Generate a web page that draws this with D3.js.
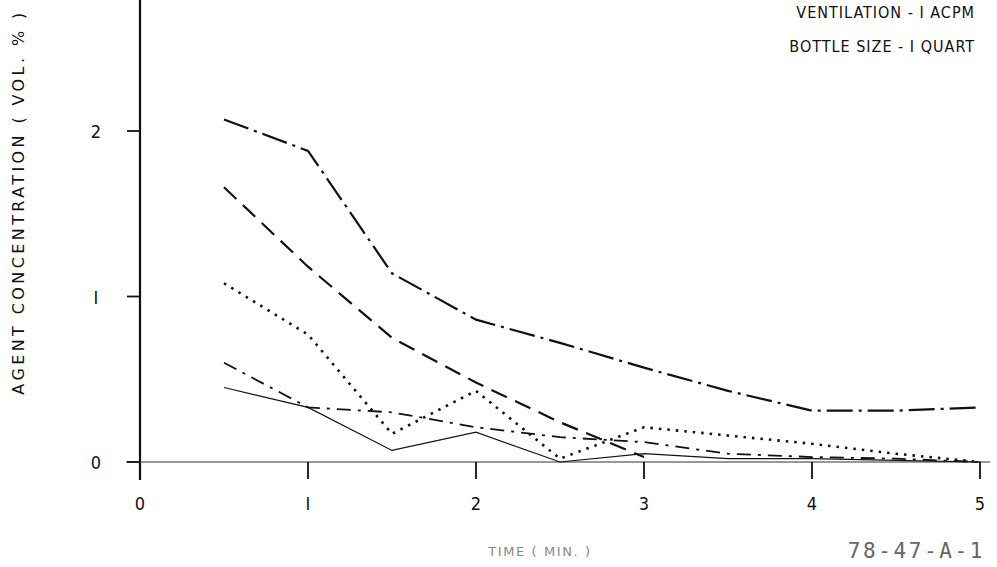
<!DOCTYPE html>
<html>
<head>
<meta charset="utf-8">
<script src="https://cdn.jsdelivr.net/npm/d3@7"></script>
<style>
    body { margin: 0; background: #fff; }
</style>
</head>
<body>
<div id="chart-container"></div>
<script>
// Time points (min.)
const times = [0.5, 1, 1.5, 2, 2.5, 3, 3.5, 4, 4.5, 5];

// Agent concentration (vol. %) for each test run
const runA = [2.07, 1.88, 1.14, 0.86, 0.72, 0.57, 0.43, 0.31, 0.31, 0.33];
const runB = [1.66, 1.18, 0.75, 0.48, 0.24, 0.03];
const runC = [1.08, 0.77, 0.17, 0.43, 0.02, 0.21, 0.16, 0.11, 0.05, 0.0];
const runD = [0.60, 0.33, 0.30, 0.21, 0.15, 0.12, 0.05, 0.03, 0.02, 0.0];
const runE = [0.45, 0.33, 0.07, 0.18, 0.0, 0.05, 0.02, 0.02, 0.01, 0.0];

const xTicks = [0, 1, 2, 3, 4, 5];
const xTickLabels = ["0", "I", "2", "3", "4", "5"];
const yTicks = [0, 1, 2];
const yTickLabels = ["0", "I", "2"];

const notes = ["VENTILATION - I ACPM", "BOTTLE SIZE - I QUART"];

const width = 997, height = 567;
const font = "'DejaVu Sans', sans-serif";
const condensed = "'DejaVu Sans Condensed', 'DejaVu Sans', sans-serif";

const svg = d3.select("#chart-container")
    .append("svg")
    .attr("width", width)
    .attr("height", height);

const x = d3.scaleLinear().domain([0, 5]).range([140, 980]);
const y = d3.scaleLinear().domain([0, 2]).range([462, 131]);

// axes lines
svg.append("line")
    .attr("x1", x(0)).attr("x2", x(0))
    .attr("y1", 0).attr("y2", 480)
    .attr("stroke", "#111").attr("stroke-width", 2.2);
svg.append("line")
    .attr("x1", 126).attr("x2", 990)
    .attr("y1", y(0)).attr("y2", y(0))
    .attr("stroke", "#333").attr("stroke-width", 1.2);

// x ticks
svg.selectAll(".xtick")
    .data(xTicks.slice(1))
    .enter()
    .append("line")
    .attr("x1", d => x(d)).attr("x2", d => x(d))
    .attr("y1", y(0)).attr("y2", y(0) + 17)
    .attr("stroke", "#111").attr("stroke-width", 1.8);

svg.selectAll(".xlabel")
    .data(xTicks)
    .enter()
    .append("text")
    .attr("x", d => x(d))
    .attr("y", 510)
    .attr("text-anchor", "middle")
    .style("font-family", condensed)
    .style("font-size", "18px")
    .style("fill", "#111")
    .text((d, i) => xTickLabels[i]);

// y ticks
svg.selectAll(".ytick")
    .data(yTicks)
    .enter()
    .append("line")
    .attr("x1", 127).attr("x2", x(0))
    .attr("y1", d => y(d)).attr("y2", d => y(d))
    .attr("stroke", "#111").attr("stroke-width", 1.8);

svg.selectAll(".ylabel")
    .data(yTicks)
    .enter()
    .append("text")
    .attr("x", 96)
    .attr("y", d => y(d) + 7)
    .attr("text-anchor", "middle")
    .style("font-family", condensed)
    .style("font-size", "18px")
    .style("fill", "#111")
    .text((d, i) => yTickLabels[i]);

// axis titles
svg.append("text")
    .attr("transform", "translate(24, 202) rotate(-90)")
    .attr("text-anchor", "middle")
    .style("font-family", font)
    .style("font-size", "16px")
    .style("letter-spacing", "3.4px")
    .style("fill", "#111")
    .text("AGENT CONCENTRATION ( VOL. % )");

svg.append("text")
    .attr("x", 540).attr("y", 556)
    .attr("text-anchor", "middle")
    .style("font-family", font)
    .style("font-size", "13px")
    .style("letter-spacing", "1.6px")
    .style("fill", "#888")
    .text("TIME ( MIN. )");

svg.append("text")
    .attr("x", 985).attr("y", 558)
    .attr("text-anchor", "end")
    .style("font-family", "'DejaVu Sans Mono', monospace")
    .style("font-size", "21px")
    .style("letter-spacing", "2.6px")
    .style("fill", "#666")
    .text("78-47-A-1");

// notes top right
svg.selectAll(".note")
    .data(notes)
    .enter()
    .append("text")
    .attr("x", 975)
    .attr("y", (d, i) => 18 + i * 34)
    .attr("text-anchor", "end")
    .style("font-family", condensed)
    .style("font-size", "16px")
    .style("letter-spacing", "1px")
    .style("fill", "#111")
    .text(d => d);

// series
const series = [
    { values: runA, dash: "26,6,3,6", w: 2.2 },
    { values: runB, dash: "17,9", w: 2.2 },
    { values: runC, dash: "2.5,6", w: 2.6 },
    { values: runD, dash: "14,7,3,7", w: 1.8 },
    { values: runE, dash: null, w: 1.2 }
];

const line = d3.line()
    .x(d => x(d[0]))
    .y(d => y(d[1]));

svg.selectAll(".series")
    .data(series)
    .enter()
    .append("path")
    .attr("d", s => line(s.values.map((v, i) => [times[i], v])))
    .attr("fill", "none")
    .attr("stroke", "#111")
    .attr("stroke-width", s => s.w)
    .attr("stroke-dasharray", s => s.dash);
</script>
</body>
</html>
